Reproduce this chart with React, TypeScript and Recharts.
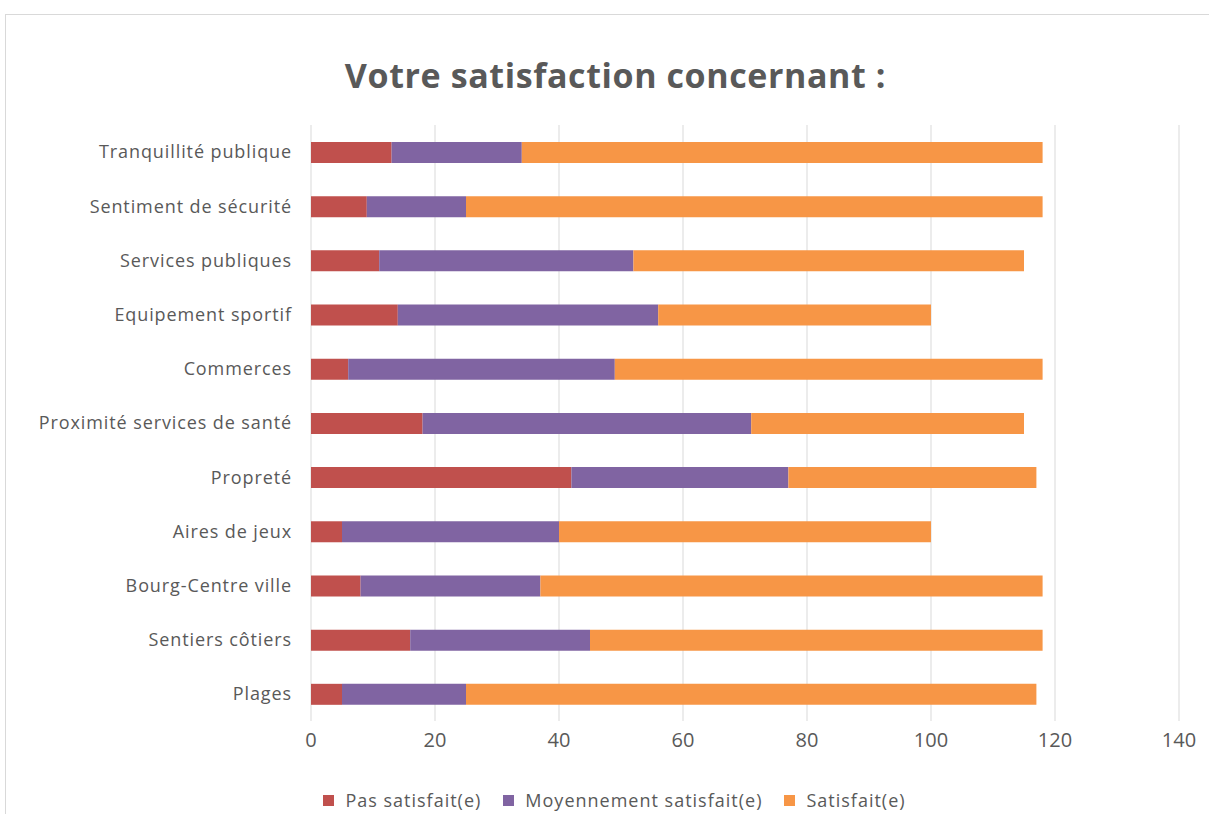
import React from 'react';
import { Bar, BarChart, CartesianGrid, Legend, XAxis, YAxis } from 'recharts';

// Survey categories, top to bottom
const categories = [
  'Tranquillité publique',
  'Sentiment de sécurité',
  'Services publiques',
  'Equipement sportif',
  'Commerces',
  'Proximité services de santé',
  'Propreté',
  'Aires de jeux',
  'Bourg-Centre ville',
  'Sentiers côtiers',
  'Plages',
];

const pasSatisfait = [13, 9, 11, 14, 6, 18, 42, 5, 8, 16, 5];
const moyennementSatisfait = [21, 16, 41, 42, 43, 53, 35, 35, 29, 29, 20];
const satisfait = [84, 93, 63, 44, 69, 44, 40, 60, 81, 73, 92];

const xTicks = [0, 20, 40, 60, 80, 100, 120, 140];

const seriesNames = ['Pas satisfait(e)', 'Moyennement satisfait(e)', 'Satisfait(e)'];
const seriesColors = ['#C0504D', '#8064A2', '#F79646'];

const FONT = '"Open Sans", sans-serif';
const TEXT = '#595959';

// Legend drawn in the series order (recharts sorts by name otherwise)
const renderLegend = () => (
  <div
    style={{
      display: 'flex',
      justifyContent: 'center',
      alignItems: 'center',
      height: 30,
      paddingLeft: 20,
      paddingTop: 1,
      fontFamily: FONT,
      fontSize: 18,
      color: TEXT,
      letterSpacing: 1,
    }}
  >
    {seriesNames.map((name, i) => (
      <span key={name} style={{ display: 'flex', alignItems: 'center', marginRight: i < 2 ? 22 : 0 }}>
        <span
          style={{
            display: 'inline-block',
            width: 11,
            height: 11,
            background: seriesColors[i],
            marginRight: 11,
          }}
        />
        {name}
      </span>
    ))}
  </div>
);

const App: React.FC = () => {
  const chartData = categories.map((name, i) => ({
    name,
    pas: pasSatisfait[i],
    moyen: moyennementSatisfait[i],
    satisfait: satisfait[i],
  }));

  return (
    <div
      style={{
        position: 'absolute',
        left: 0,
        top: 0,
        width: 1209,
        height: 814,
        overflow: 'hidden',
        background: '#fff',
        fontFamily: FONT,
      }}
    >
      {/* frame */}
      <div
        style={{
          position: 'absolute',
          left: 5,
          top: 14,
          width: 1230,
          height: 830,
          border: '1px solid #d9d9d9',
        }}
      />
      {/* Title */}
      <div
        style={{
          position: 'absolute',
          left: 0,
          width: 1231,
          top: 52,
          textAlign: 'center',
          fontSize: 34,
          fontWeight: 700,
          color: TEXT,
          lineHeight: '46px',
          letterSpacing: 0.6,
        }}
      >
        Votre satisfaction concernant :
      </div>
      <div style={{ position: 'absolute', left: 0, top: 0 }}>
        <BarChart
          width={1209}
          height={814}
          data={chartData}
          layout="vertical"
          margin={{ top: 125, right: 30, bottom: 0, left: 0 }}
          barSize={21}
        >
          <CartesianGrid horizontal={false} stroke="#d9d9d9" />
          <XAxis
            type="number"
            domain={[0, 140]}
            ticks={xTicks}
            axisLine={false}
            tickLine={false}
            tickSize={0}
            tickMargin={12}
            height={63}
            tick={{ fill: TEXT, fontSize: 20, fontFamily: FONT }}
          />
          <YAxis
            type="category"
            dataKey="name"
            width={311}
            axisLine={false}
            tickLine={false}
            tickSize={0}
            tickMargin={19}
            interval={0}
            tick={{ fill: TEXT, fontSize: 18, fontFamily: FONT, letterSpacing: 0.9 }}
          />
          <Legend
            verticalAlign="bottom"
            align="center"
            content={renderLegend}
            wrapperStyle={{ height: 30, left: 0, width: 1209 }}
          />
          <Bar dataKey="pas" name={seriesNames[0]} stackId="a" fill={seriesColors[0]} isAnimationActive={false} />
          <Bar dataKey="moyen" name={seriesNames[1]} stackId="a" fill={seriesColors[1]} isAnimationActive={false} />
          <Bar dataKey="satisfait" name={seriesNames[2]} stackId="a" fill={seriesColors[2]} isAnimationActive={false} />
        </BarChart>
      </div>
    </div>
  );
};

export default App;
